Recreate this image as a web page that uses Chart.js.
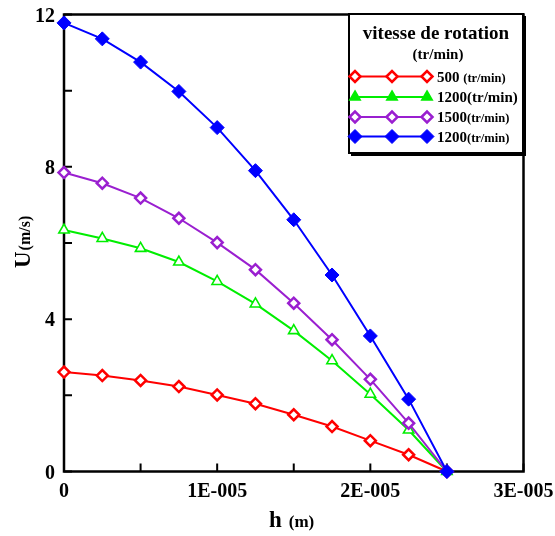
<!DOCTYPE html>
<html>
<head>
<meta charset="utf-8">
<script src="https://cdn.jsdelivr.net/npm/chart.js@4/dist/chart.umd.min.js"></script>
<style>
  html, body { margin: 0; padding: 0; background: #fff; }
  #c { display: block; }
</style>
</head>
<body>
<canvas id="c" width="555" height="536"></canvas>
<script>
// Film thickness h (m) and velocity profiles U (m/s)
const hValues = [0, 2.5e-6, 5e-6, 7.5e-6, 1e-5, 1.25e-5, 1.5e-5, 1.75e-5, 2e-5, 2.25e-5, 2.5e-5];
const u500   = [2.61, 2.52, 2.39, 2.23, 2.01, 1.78, 1.49, 1.18, 0.81, 0.44, 0];
const u1200  = [6.34, 6.12, 5.86, 5.50, 4.99, 4.40, 3.70, 2.91, 2.03, 1.09, 0];
const u1500  = [7.85, 7.57, 7.18, 6.65, 6.01, 5.30, 4.42, 3.46, 2.42, 1.27, 0];
const u1200b = [11.78, 11.36, 10.75, 9.98, 9.03, 7.90, 6.61, 5.16, 3.56, 1.90, 0];

const xTickLabels = ['0', '1E-005', '2E-005', '3E-005'];
const yTickLabels = ['0', '4', '8', '12'];

const legendTitle = 'vitesse de rotation';
const legendSubtitle = '(tr/min)';
// each legend label: [large part, small part]
const legendLabels = [
  ['500 ', '(tr/min)'],
  ['1200(tr/min)', ''],
  ['1500', '(tr/min)'],
  ['1200', '(tr/min)']
];

const SERIF = "'Liberation Serif', 'Times New Roman', serif";

const styles = [
  { color: '#ff0000', pointStyle: 'rectRot',  radius: 5.5, borderWidth: 2.5, fill: '#ffffff', legendFill: '#ffffff' },
  { color: '#00ee00', pointStyle: 'triangle', radius: 6,   borderWidth: 1.6, fill: '#ffffff', legendFill: '#00ee00' },
  { color: '#9a1fd0', pointStyle: 'rectRot',  radius: 5.5, borderWidth: 2.5, fill: '#ffffff', legendFill: '#ffffff' },
  { color: '#0000ff', pointStyle: 'rectRot',  radius: 7,   borderWidth: 1,   fill: '#0000ff', legendFill: '#0000ff' }
];

const seriesList = [u500, u1200, u1500, u1200b];

const datasets = seriesList.map((vals, i) => ({
  data: hValues.map((h, k) => ({ x: h, y: vals[k] })),
  borderColor: styles[i].color,
  borderWidth: 2,
  pointStyle: styles[i].pointStyle,
  pointRadius: styles[i].radius,
  pointBorderWidth: styles[i].borderWidth,
  pointBorderColor: styles[i].color,
  pointBackgroundColor: styles[i].fill,
  tension: 0,
  fill: false,
  clip: false,
  order: 3 - i
}));

// Frame around the plot area and inward tick marks
const frameAndTicks = {
  id: 'frameAndTicks',
  beforeDatasetsDraw(chart) {
    const { ctx, chartArea: a, scales: { x, y } } = chart;
    ctx.save();
    ctx.strokeStyle = '#000';
    ctx.lineWidth = 2;
    ctx.beginPath();
    x.ticks.forEach(t => {
      const px = x.getPixelForValue(t.value);
      ctx.moveTo(px, a.bottom);
      ctx.lineTo(px, a.bottom - 8);
    });
    y.ticks.forEach(t => {
      const py = y.getPixelForValue(t.value);
      ctx.moveTo(a.left, py);
      ctx.lineTo(a.left + 8, py);
    });
    ctx.stroke();
    ctx.lineWidth = 2.5;
    ctx.strokeRect(a.left, a.top, a.right - a.left, a.bottom - a.top);
    ctx.restore();
  },
  afterDraw(chart) {
    const { ctx } = chart;
    ctx.save();
    ctx.fillStyle = '#000';
    ctx.textBaseline = 'alphabetic';
    ctx.textAlign = 'left';

    // y axis title, rotated
    ctx.save();
    ctx.translate(30, 268);
    ctx.rotate(-Math.PI / 2);
    ctx.font = 'bold 23px ' + SERIF;
    ctx.fillText('U', 0, 0);
    const wU = ctx.measureText('U').width;
    ctx.font = 'bold 16px ' + SERIF;
    ctx.fillText('(m/s)', wU + 1, 0);
    ctx.restore();

    // x axis title
    ctx.font = 'bold 23px ' + SERIF;
    ctx.fillText('h', 269, 527);
    const wh = ctx.measureText('h').width;
    ctx.font = 'bold 17px ' + SERIF;
    ctx.fillText('(m)', 269 + wh + 7, 527);

    // legend box
    const bx = 349, by = 14, bw = 174, bh = 139;
    ctx.fillStyle = '#000';
    ctx.fillRect(bx + 2, by + 2, bw + 1, bh + 1);
    ctx.fillStyle = '#fff';
    ctx.fillRect(bx, by, bw, bh);
    ctx.strokeStyle = '#000';
    ctx.lineWidth = 2;
    ctx.strokeRect(bx, by, bw, bh);

    ctx.fillStyle = '#000';
    ctx.textAlign = 'center';
    ctx.font = 'bold 19px ' + SERIF;
    ctx.fillText(legendTitle, bx + bw / 2, 39);
    ctx.font = 'bold 15px ' + SERIF;
    ctx.fillText(legendSubtitle, bx + bw / 2 + 2, 59);

    const rowY = [76.5, 97, 117, 136.5];
    const markX = [355, 392, 427];
    legendLabels.forEach((parts, i) => {
      const s = styles[i];
      const yy = rowY[i];
      ctx.strokeStyle = s.color;
      ctx.lineWidth = 2;
      ctx.beginPath();
      ctx.moveTo(markX[0], yy);
      ctx.lineTo(markX[2], yy);
      ctx.stroke();
      markX.forEach(mx => {
        ctx.fillStyle = s.legendFill;
        ctx.strokeStyle = s.color;
        ctx.lineWidth = s.borderWidth;
        Chart.helpers.drawPoint(ctx, {
          pointStyle: s.pointStyle, radius: s.radius, borderWidth: s.borderWidth, rotation: 0
        }, mx, yy);
      });
      ctx.fillStyle = '#000';
      ctx.textAlign = 'left';
      ctx.font = 'bold 15px ' + SERIF;
      ctx.fillText(parts[0], 437, yy + 5);
      const w0 = ctx.measureText(parts[0]).width;
      if (parts[1]) {
        ctx.font = 'bold 12.5px ' + SERIF;
        ctx.fillText(parts[1], 437 + w0, yy + 5);
      }
    });
    ctx.restore();
  }
};

const tickFont = { family: SERIF, size: 20, weight: 'bold' };

new Chart(document.getElementById('c'), {
  type: 'line',
  data: { datasets },
  options: {
    responsive: false,
    animation: false,
    devicePixelRatio: 1,
    layout: { padding: { top: 14.5, right: 31.5, left: 0, bottom: 0 } },
    plugins: { legend: { display: false }, tooltip: { enabled: false } },
    scales: {
      x: {
        type: 'linear',
        min: 0,
        max: 3e-5,
        border: { display: false },
        grid: { display: false, drawTicks: false },
        ticks: {
          stepSize: 5e-6,
          autoSkip: false,
          maxRotation: 0,
          padding: 8,
          color: '#000',
          font: tickFont,
          callback: (v, i) => (i % 2 === 0 ? xTickLabels[i / 2] : '')
        },
        afterFit: s => { s.height = 64.5; s.paddingLeft = 0; s.paddingRight = 0; }
      },
      y: {
        type: 'linear',
        min: 0,
        max: 12,
        border: { display: false },
        grid: { display: false, drawTicks: false },
        ticks: {
          stepSize: 2,
          autoSkip: false,
          padding: 9,
          labelOffset: 2,
          color: '#000',
          font: tickFont,
          callback: (v, i) => (i % 2 === 0 ? yTickLabels[i / 2] : '')
        },
        afterFit: s => { s.width = 64; s.paddingTop = 0; s.paddingBottom = 0; }
      }
    }
  },
  plugins: [frameAndTicks]
});
</script>
</body>
</html>
